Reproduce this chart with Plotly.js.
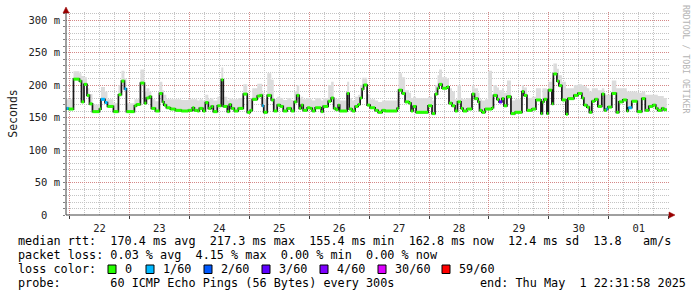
<!DOCTYPE html>
<html><head><meta charset="utf-8">
<script src="https://cdn.plot.ly/plotly-3.0.1.min.js"></script>
<style>html,body{margin:0;padding:0;background:#fff;}#chart{width:697px;height:297px;}</style>
</head><body><div id="chart"></div>
<script>
// ---------- data ----------
// segment start, in hours after 2025-04-22 00:00
const segHours = [
 -1.6,-1.2,-0.4,1.6,4,4.8,5.8,7,8,9.2,12,12.6,14.2,15.2,17.6,19.6,20.8,22,22.8,26,26.8,28.4,30,30.8,32,32.8,34.4,36,37.2,37.8,38.8,40.4,42.4,44.8,
 47.6,49.2,50,51.2,52,53.4,54.4,55.6,56.8,57.6,59.2,60.8,61.6,63.2,64,64.8,66,67.6,69.6,71.2,72.4,73.2,75.2,76.4,77.2,77.8,79.2,80.8,81.8,83.2,84.4,85.6,87.2,88.8,90,91,92,92.8,93.6,95.2,
 96.4,97.2,98.4,100.8,101.6,103.6,104.8,105.8,106.6,107.6,108.2,111.2,112,113.2,114.4,115.6,116.4,117.2,117.8,119.2,120.4,122.4,123.6,125.2,126.4,131.2,131.8,133.2,134.4,136,136.8,137.6,138.8,143.6,
 145.2,146.4,147.4,148,149.2,151.2,152,153.2,154.4,155.4,156.8,157.6,159.2,161.2,162.2,163.6,164.2,165.2,166.4,167.6,169.2,169.8,171.2,172,173.2,174,175.2,176.8,178.4,181.2,182,183.2,185.2,186.8,188.8,189.4,190,191.2,191.8,
 193.2,193.8,195.2,196,197.2,198.8,199.6,202,203.6,205.2,206,207.2,208.2,209.2,210.4,211.6,213.2,214.2,215,215.6,217.2,219,220,221.6,223.2,223.8,225.2,227.4,229.2,230.6,232,233.6,234.8,235.6,237.2,238
];
const lastHour = 239.2;
// median rtt (ms)
const medianMs = [
 163,164,163,209,206,174,201,184,171,159,163,178,173,167,159,185,206,194,159,168,170,203,172,180,182,164,160,187,174,169,165,163,161,160,
 161,165,161,160,164,160,173,164,167,159,168,208,167,159,170,164,160,164,186,158,161,178,183,184,168,158,184,177,160,169,167,160,164,160,174,184,164,169,161,165,
 164,160,165,159,167,175,180,164,162,169,160,187,163,160,167,170,180,194,200,169,165,161,158,161,160,164,192,187,174,172,160,167,158,168,
 156,186,195,201,195,197,172,168,160,174,164,160,163,186,179,174,161,158,163,163,165,184,178,174,179,168,182,156,158,190,184,161,163,177,156,174,178,156,192,
 171,217,206,199,177,155,179,184,187,180,169,166,158,175,178,167,186,161,163,166,187,158,174,177,160,165,175,159,179,161,167,169,164,161,164,162
];
// top of the smoke (slowest pings, ms)
const smokeTopMs = [
 178,178,178,221,218,214,212,195,186,170,175,197,190,178,172,200,222,210,172,178,178,224,190,195,190,178,175,205,192,185,178,178,178,177,
 178,178,178,176,178,176,185,178,180,176,182,227,182,176,180,178,178,180,201,176,178,195,202,202,188,178,218,208,178,182,180,177,180,177,190,200,180,182,178,180,
 178,176,180,176,180,200,205,180,178,180,176,205,180,176,182,185,200,211,211,186,178,176,174,176,176,178,218,212,192,188,180,182,180,182,
 176,200,215,224,212,210,195,190,178,200,180,178,180,200,195,188,178,176,178,222,180,200,196,192,195,188,207,176,178,200,196,180,182,195,176,195,195,178,205,
 210,233,225,215,205,195,195,200,201,200,198,195,190,195,195,192,195,185,185,185,207,195,195,195,190,190,190,188,190,185,185,185,185,183,183,180
];
// pings lost (of 60) per segment
const lossCount = [
 0,1,0,0,0,0,0,0,0,0,0,1,1,0,0,0,0,1,0,0,0,0,0,0,0,0,0,0,0,0,0,0,0,0,
 0,0,0,0,0,0,0,0,0,0,0,0,0,0,0,0,0,0,0,0,0,0,0,0,1,0,0,0,0,0,0,0,0,0,0,0,0,0,0,0,
 0,0,0,0,0,0,0,0,0,0,0,0,0,0,0,0,0,0,0,0,0,0,0,0,0,0,0,0,0,0,0,0,0,0,
 0,0,0,0,0,0,0,0,0,0,0,0,0,0,0,0,0,0,0,0,0,0,0,3,0,0,0,0,0,0,0,0,0,0,0,0,0,0,0,
 0,0,0,0,0,0,0,0,0,0,0,0,0,0,0,0,0,0,1,0,0,0,0,0,0,1,0,0,0,0,0,0,0,0,0,0
];
const lossLevels = [0,1,2,3,4,30,59];
const lossLabels = ['0','1/60','2/60','3/60','4/60','30/60','59/60'];
const lossColors = ['#26ff00','#00b8ff','#0059ff','#5e00ff','#7e00ff','#dd00ff','#ff0000'];
const dayLabels = ['22','23','24','25','26','27','28','29','30','01'];
const yTickVals = [0,50,100,150,200,250,300];
const yTickText = ['0\u00a0\u00a0','50 m','100 m','150 m','200 m','250 m','300 m'];
const statsRtt  = 'median rtt:  170.4 ms avg  217.3 ms max  155.4 ms min  162.8 ms now  12.4 ms sd  13.8   am/s';
const statsLoss = 'packet loss: 0.03 % avg  4.15 % max  0.00 % min  0.00 % now';
const lossTitle = 'loss color:';
const probeText = 'probe:       60 ICMP Echo Pings (56 Bytes) every 300s';
const endText   = 'end: Thu May  1 22:31:58 2025';
const sideText  = 'RRDTOOL / TOBI OETIKER';

// ---------- helpers ----------
const base = Date.UTC(2025,3,22);
function toDate(h){
  const d = new Date(base + h*3600000);
  const p = n => String(n).padStart(2,'0');
  return d.getUTCFullYear()+'-'+p(d.getUTCMonth()+1)+'-'+p(d.getUTCDate())+' '+p(d.getUTCHours())+':'+p(d.getUTCMinutes())+':'+p(d.getUTCSeconds());
}
const nb = s => s.replace(/ /g,'\u00a0');
const W = 697, H = 297, ML = 66, MR = 28, MT = 12, MB = 82;
const PW = W-ML-MR, PH = H-MT-MB;
const px = x => (x-ML)/PW;
const py = y => (H-MB-y)/PH;

const xs = segHours.concat([lastHour]).map(toDate);
const medY = medianMs.concat([medianMs[medianMs.length-1]]);
const topY = smokeTopMs.concat([smokeTopMs[smokeTopMs.length-1]]);
const midnights = dayLabels.map((d,i)=>toDate(24*i)).concat([toDate(240)]);
const noons = dayLabels.map((d,i)=>toDate(24*i+12));

const traces = [];
traces.push({x:xs, y:medY, type:'scatter', mode:'lines', line:{shape:'hv', width:0, color:'rgba(0,0,0,0)'}, hoverinfo:'skip', showlegend:false});
traces.push({x:xs, y:topY, type:'scatter', mode:'lines', fill:'tonexty', fillcolor:'#dcdcdc', line:{shape:'hv', width:0, color:'rgba(0,0,0,0)'}, hoverinfo:'skip', showlegend:false});
traces.push({x:xs, y:medY, type:'scatter', mode:'lines', line:{shape:'hv', width:1.7, color:'#1a1a1a'}, hoverinfo:'skip', showlegend:false});

function levelIndex(c){ let k=0; for(let i=0;i<lossLevels.length;i++){ if(c>=lossLevels[i]) k=i; } return k; }
const groups = lossLevels.map(()=>({x:[],y:[]}));
for(let i=0;i<medianMs.length;i++){
  const g = groups[levelIndex(lossCount[i])];
  g.x.push(xs[i], xs[i+1], null);
  g.y.push(medianMs[i], medianMs[i], null);
}
groups.forEach((g,k)=>{
  if(g.x.length) traces.push({x:g.x, y:g.y, type:'scatter', mode:'lines', line:{width:3, color:lossColors[k]}, hoverinfo:'skip', showlegend:false, connectgaps:false});
});
// invisible carrier for the day-label axis
traces.push({x:[xs[0]], y:[medY[0]], xaxis:'x2', type:'scatter', mode:'markers', marker:{size:1, color:'rgba(0,0,0,0)'}, hoverinfo:'skip', showlegend:false});

const mono = 'DejaVu Sans Mono, monospace';
const annotations = [];
function txt(x,y,t,opts){
  annotations.push(Object.assign({xref:'paper', yref:'paper', x:px(x), y:py(y), text:nb(t), showarrow:false, xanchor:'left', yanchor:'middle', font:{family:mono, size:11.8, color:'#000'}}, opts||{}));
}
txt(16,241,statsRtt);
txt(16,255,statsLoss);
txt(16,269,lossTitle);
txt(16,283,probeText);
txt(478,283,endText);
annotations.push({xref:'paper', yref:'paper', x:px(686), y:py(59), text:nb(sideText), showarrow:false, textangle:90, xanchor:'center', yanchor:'middle', font:{family:mono, size:8.2, color:'#b4b4b4'}});

const boxX = [108,146,204,262,320,378,442];
const shapes = [];
lossLabels.forEach((lab,k)=>{
  shapes.push({type:'rect', xref:'paper', yref:'paper', x0:px(boxX[k]), x1:px(boxX[k]+8), y0:py(273.5), y1:py(265), fillcolor:lossColors[k], line:{color:'#000', width:1}});
  txt(boxX[k]+14.5, 269, lab);
});
// axis extensions & arrows
shapes.push({type:'line', xref:'paper', yref:'paper', x0:px(66), x1:px(66), y0:py(215), y1:py(9), line:{color:'#404040', width:1}});
shapes.push({type:'line', xref:'paper', yref:'paper', x0:px(66), x1:px(671), y0:py(215), y1:py(215), line:{color:'#404040', width:1}});
shapes.push({type:'path', xref:'paper', yref:'paper', path:`M ${px(63)} ${py(13)} L ${px(69)} ${py(13)} L ${px(66)} ${py(7)} Z`, fillcolor:'#990000', line:{color:'#990000', width:0.5}});
shapes.push({type:'path', xref:'paper', yref:'paper', path:`M ${px(669)} ${py(212)} L ${px(669)} ${py(218)} L ${px(675)} ${py(215)} Z`, fillcolor:'#990000', line:{color:'#990000', width:0.5}});

const redGrid = 'rgba(220,110,110,0.7)';
const grayGrid = '#c4c4c4';
const xRange = [toDate(-1.4), toDate(240.1)];
const layout = {
  width:W, height:H, margin:{l:ML, r:MR, t:MT, b:MB, pad:0},
  paper_bgcolor:'#fff', plot_bgcolor:'#fff', showlegend:false,
  xaxis:{type:'date', range:xRange, tickmode:'array', tickvals:midnights, showticklabels:false,
    showgrid:true, gridcolor:redGrid, griddash:'1px,1px', gridwidth:1, zeroline:false, showline:false,
    ticks:'outside', ticklen:3, tickcolor:'#404040',
    minor:{tickmode:'linear', tick0:toDate(0), dtick:21600000, showgrid:true, gridcolor:grayGrid, griddash:'1px,1px', ticks:''},
    fixedrange:true},
  xaxis2:{type:'date', range:xRange, overlaying:'x', side:'bottom', anchor:'y', tickmode:'array', tickvals:noons, ticktext:dayLabels,
    showgrid:false, zeroline:false, showline:false, ticks:'', ticklabelstandoff:5,
    tickfont:{family:mono, size:10.5, color:'#222'}, fixedrange:true},
  yaxis:{range:[0,312.3], tickmode:'array', tickvals:yTickVals, ticktext:yTickText,
    showgrid:true, gridcolor:redGrid, griddash:'1px,1px', zeroline:false, showline:false,
    ticks:'', ticklabelstandoff:5,
    minor:{tickmode:'linear', tick0:0, dtick:10, showgrid:true, gridcolor:grayGrid, griddash:'1px,1px', ticks:'outside', ticklen:2, tickcolor:'#808080'},
    tickfont:{family:mono, size:10.5, color:'#222'},
    title:{text:'Seconds', font:{family:mono, size:11.5, color:'#222'}, standoff:8}, fixedrange:true},
  annotations:annotations, shapes:shapes
};
Plotly.newPlot('chart', traces, layout, {staticPlot:true, displayModeBar:false});
</script></body></html>
